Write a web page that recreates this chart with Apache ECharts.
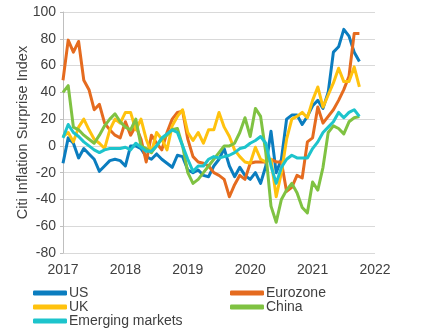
<!DOCTYPE html>
<html>
<head>
<meta charset="utf-8">
<script src="https://cdn.jsdelivr.net/npm/echarts@6/dist/echarts.min.js"></script>
<style>html,body{margin:0;padding:0;background:#fff}#c{width:426px;height:333px}</style>
</head>
<body>
<div id="c"></div>
<script>
// Monthly values, Jan 2017 .. Oct 2021
const startYear = 2017;
const yearTicks = [2017, 2018, 2019, 2020, 2021, 2022];
const seriesNames = ["US", "Eurozone", "UK", "China", "Emerging markets"];
const us = [-13,6,2,-9,-2,-6,-10,-19,-15,-11,-10,-11,-15,0,0,-2,-8,-10,-6,-10,-13,-16,-7,-8,
  -18,-20,-18,-22,-23,-15,-10,-2,-15,-23,-16,-22,-25,-20,-28,-15,11,-20,-10,20,23,23,16,22,
  30,34,28,40,70,74,87,82,70,63];
const eurozone = [49,79,70,78,49,42,27,31,17,12,8,6,18,8,15,5,-12,8,2,-3,10,20,25,26,
  5,-8,-12,-13,-15,-20,-22,-25,-38,-29,-22,-25,-13,-12,-12,-12,-10,-12,-12,-34,-31,-22,-24,3,
  6,29,17,22,27,34,42,52,84,84];
const uk = [7,10,3,14,20,12,5,2,-2,12,20,17,25,25,12,20,5,-5,10,5,-3,15,22,27,
  10,4,10,2,12,12,25,14,7,-3,-8,-12,-13,-1,-10,-12,-10,-38,-20,5,20,22,25,21,
  34,44,29,38,47,58,48,48,59,44];
const china = [40,45,14,12,8,5,2,8,15,20,24,18,14,12,20,0,-2,-5,0,5,8,12,13,0,
  -20,-28,-25,-20,-15,-10,-5,0,0,2,10,21,7,28,22,-5,-45,-57,-40,-33,-28,-35,-46,-50,
  -27,-33,-16,10,15,13,9,18,21,22];
const em = [6,16,10,7,3,0,-3,-5,-3,-2,-2,-2,-1,-3,2,-1,-4,-4,0,6,9,12,10,0,
  -10,-19,-15,-15,-10,-8,-9,-8,-7,-5,-2,-1,2,4,7,2,-15,-28,-16,-10,-7,-9,-9,-9,
  -2,3,10,14,18,25,21,25,27,22];
const colors = ["#0b7dbf", "#e56b1f", "#ffc20e", "#7fc242", "#1dc4cc"];

const values = [us, eurozone, uk, china, em];
const toPairs = arr => arr.map((v, i) => [startYear + i / 12, v]);

const txt = "#404040";
const font = "Liberation Sans, Arial, sans-serif";
const chart = echarts.init(document.getElementById('c'), null, {renderer: 'canvas'});
chart.setOption({
  animation: false,
  color: colors,
  grid: {left: 63, right: 51, top: 12, bottom: 80, containLabel: false},
  xAxis: {
    type: 'value', min: yearTicks[0], max: yearTicks[yearTicks.length - 1], interval: 1,
    axisLine: {show: false}, axisTick: {show: false}, splitLine: {show: false},
    axisLabel: {color: txt, fontSize: 14, fontFamily: font, margin: 10, formatter: v => String(v)}
  },
  yAxis: {
    type: 'value', min: -80, max: 100, interval: 20,
    name: 'Citi Inflation Surprise Index', nameLocation: 'middle', nameGap: 33,
    nameMoveOverlap: false,
    nameTextStyle: {color: txt, fontSize: 14.5, fontFamily: font},
    axisLine: {show: true, lineStyle: {color: '#bfbfbf'}},
    axisTick: {show: true, length: 3, lineStyle: {color: '#bfbfbf'}},
    splitLine: {lineStyle: {color: '#d9d9d9'}},
    axisLabel: {color: txt, fontSize: 14, fontFamily: font, margin: 7}
  },
  legend: [
    {left: 33, top: 286, orient: 'vertical', itemGap: 0, itemWidth: 34, itemHeight: 5,
     itemStyle: {borderWidth: 0}, textStyle: {color: txt, fontSize: 14, fontFamily: font, padding: [0,0,0,-3]},
     icon: 'roundRect', data: [seriesNames[0], seriesNames[2], seriesNames[4]], padding: 0},
    {left: 230, top: 286, orient: 'vertical', itemGap: 0, itemWidth: 34, itemHeight: 5,
     itemStyle: {borderWidth: 0}, textStyle: {color: txt, fontSize: 14, fontFamily: font, padding: [0,0,0,-3]},
     icon: 'roundRect', data: [seriesNames[1], seriesNames[3]], padding: 0}
  ],
  series: seriesNames.map((n, i) => ({
    name: n, type: 'line', data: toPairs(values[i]), showSymbol: false, symbol: 'none',
    lineStyle: {width: 3, color: colors[i], join: 'round'}, itemStyle: {color: colors[i]}
  }))
});
</script>
</body>
</html>
